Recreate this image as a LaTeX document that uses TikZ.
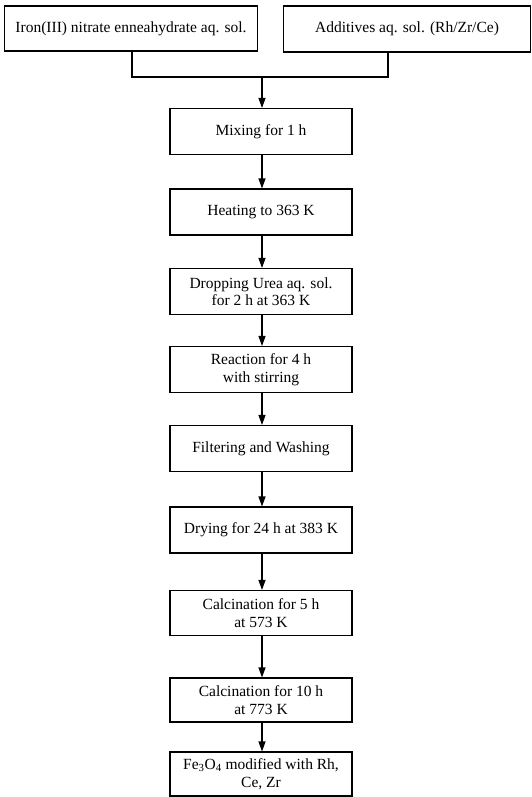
\documentclass[tikz,border=0pt]{standalone}
\usepackage{fontspec}
\setmainfont{Liberation Serif}
\usetikzlibrary{arrows.meta}
\tikzset{
  box/.style={draw, line width=1.1pt, inner sep=0pt, align=center,
    font=\fontsize{15.5}{17.5}\selectfont, minimum width=182pt, minimum height=46pt},
  link/.style={line width=1.1pt},
  arr/.style={line width=1.1pt, -{Triangle[width=7pt,length=10pt]}}
}
\begin{document}
\begin{tikzpicture}[x=1pt,y=-1pt]
\useasboundingbox (0,0) rectangle (532,797);
\node[box, minimum width=253pt, minimum height=45pt] (iron) at (131,28.5) {Iron(III) nitrate enneahydrate aq. sol.};
\node[box, minimum width=247pt, minimum height=46pt] (add) at (407,29) {Additives aq. sol. (Rh/Zr/Ce)};
\coordinate (jl) at (132,77);
\coordinate (jr) at (388,77);
\coordinate (jm) at (262,77);
\node[box] (mix) at (261,131.5) {Mixing for 1 h};
\node[box] (heat) at (261,212) {Heating to 363 K};
\node[box] (drop) at (261,291.5) {Dropping Urea aq. sol.\\for 2 h at 363 K};
\node[box] (reac) at (261,369.5) {Reaction for 4 h\\with stirring};
\node[box] (filt) at (261,448.5) {Filtering and Washing};
\node[box] (dry) at (261,530) {Drying for 24 h at 383 K};
\node[box, minimum height=45pt] (calc5) at (261,613) {Calcination for 5 h\\at 573 K};
\node[box, minimum height=44pt] (calc10) at (261,700) {Calcination for 10 h\\at 773 K};
\node[box, minimum height=44pt] (fe) at (261,774) {Fe\textsubscript{3}O\textsubscript{4} modified with Rh,\\Ce, Zr};
\draw[link] (iron.south -| jl) -- (jl) -- (jr) -- (add.south -| jr);
\draw[arr] (jm) -- (jm |- mix.north);
\draw[arr] (mix.south -| jm) -- (jm |- heat.north);
\draw[arr] (heat.south -| jm) -- (jm |- drop.north);
\draw[arr] (drop.south -| jm) -- (jm |- reac.north);
\draw[arr] (reac.south -| jm) -- (jm |- filt.north);
\draw[arr] (filt.south -| jm) -- (jm |- dry.north);
\draw[arr] (dry.south -| jm) -- (jm |- calc5.north);
\draw[arr] (calc5.south -| jm) -- (jm |- calc10.north);
\draw[arr] (calc10.south -| jm) -- (jm |- fe.north);
\end{tikzpicture}
\end{document}
